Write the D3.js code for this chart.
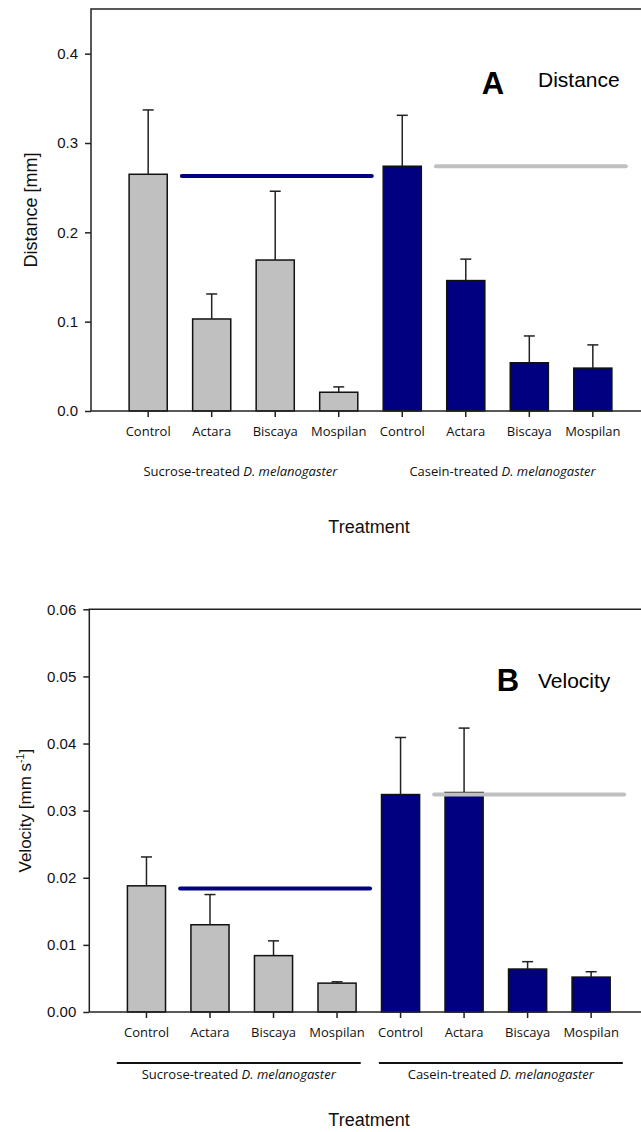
<!DOCTYPE html>
<html>
<head>
<meta charset="utf-8">
<script src="https://cdn.jsdelivr.net/npm/d3@7"></script>
<style>
  body { margin: 0; background: #fff; }
  svg { display: block; }
</style>
</head>
<body>
<div id="viz-container"></div>
<script>
// treatments, repeated per diet group
let treatments = ['Control', 'Actara', 'Biscaya', 'Mospilan'];
let groups = ['Sucrose-treated', 'Casein-treated'];

// panel A - distance (mm), mean and SE
let distMean = [0.265, 0.103, 0.169, 0.021, 0.274, 0.146, 0.054, 0.048];
let distErr  = [0.072, 0.028, 0.077, 0.006, 0.057, 0.024, 0.030, 0.026];
let distRef  = [0.263, 0.274];   // navy line over sucrose, grey line over casein
let distTicks = [0, 0.1, 0.2, 0.3, 0.4];

// panel B - velocity (mm/s), mean and SE
let velMean = [0.0188, 0.0130, 0.0084, 0.0043, 0.0324, 0.0327, 0.0064, 0.0052];
let velErr  = [0.0043, 0.0045, 0.0022, 0.0002, 0.0085, 0.0096, 0.0011, 0.0008];
let velRef  = [0.0184, 0.0324];
let velTicks = [0, 0.01, 0.02, 0.03, 0.04, 0.05, 0.06];

//group color
let gc = { 'Sucrose-treated': '#c0c0c0', 'Casein-treated': '#000080' };
let refColor = ['#000080', '#c0c0c0'];

let fontAxis = '"Liberation Sans", Arial, sans-serif';
let fontCat = '"Open Sans", sans-serif';

let svg = d3.select('#viz-container')
  .append('svg')
    .attr('width', 641)
    .attr('height', 1132);

function panel(opt){
  let bars = [];
  groups.forEach(function(g, gi){
    treatments.forEach(function(t, ti){
      let i = gi*4 + ti;
      bars.push({i: i, group: g, name: t, mean: opt.mean[i], err: opt.err[i]});
    });
  });

  let x = d3.scaleBand()
    .domain(d3.range(bars.length))
    .range([opt.left, opt.left + 559])
    .paddingInner(0.4)
    .paddingOuter(0.6);

  let y = d3.scaleLinear()
    .domain([0, opt.yMax])
    .range([opt.bottom, opt.top]);

  let g = svg.append('g');

  // frame (top + left), goes off the right edge like the original
  g.append('path')
    .attr('d', 'M' + (opt.left + 600) + ',' + opt.top + 'H' + opt.left + 'V' + opt.bottom)
    .attr('fill', 'none')
    .attr('stroke', '#222')
    .attr('stroke-width', 1.5);

  // y axis
  let ya = g.append('g')
    .attr('transform', 'translate(' + opt.left + ',0)')
    .call(d3.axisLeft(y).tickValues(opt.ticks).tickFormat(d3.format(opt.fmt)).tickSize(6).tickPadding(7));
  ya.select('.domain').remove();
  ya.selectAll('line').attr('stroke', '#222').attr('stroke-width', 1.5);
  ya.selectAll('text').attr('font-family', fontAxis).attr('font-size', 15).attr('fill', '#111');

  // bars
  g.selectAll('.bar').data(bars).enter()
    .append('rect')
      .attr('x', function(d){ return x(d.i); })
      .attr('y', function(d){ return y(d.mean); })
      .attr('width', x.bandwidth())
      .attr('height', function(d){ return y(0) - y(d.mean); })
      .attr('fill', function(d){ return gc[d.group]; })
      .attr('stroke', '#111')
      .attr('stroke-width', 1.5);

  // error bars (upper only)
  let cx = function(d){ return x(d.i) + x.bandwidth()/2; };
  g.selectAll('.errv').data(bars).enter()
    .append('line')
      .attr('x1', cx).attr('x2', cx)
      .attr('y1', function(d){ return y(d.mean); })
      .attr('y2', function(d){ return y(d.mean + d.err); })
      .attr('stroke', '#222').attr('stroke-width', 1.5);
  g.selectAll('.errc').data(bars).enter()
    .append('line')
      .attr('x1', function(d){ return cx(d) - 5.5; })
      .attr('x2', function(d){ return cx(d) + 5.5; })
      .attr('y1', function(d){ return y(d.mean + d.err); })
      .attr('y2', function(d){ return y(d.mean + d.err); })
      .attr('stroke', '#222').attr('stroke-width', 1.5);

  // reference lines over Actara..Mospilan of each group
  opt.ref.forEach(function(v, gi){
    let a = x(gi*4 + 1) + x.bandwidth()/2 - 0.47*x.step();
    let b = x(gi*4 + 3) + x.bandwidth()/2 + 0.52*x.step();
    g.append('line')
      .attr('x1', a).attr('x2', b)
      .attr('y1', y(v)).attr('y2', y(v))
      .attr('stroke', refColor[gi])
      .attr('stroke-width', 4)
      .attr('stroke-linecap', 'round');
  });

  // x axis
  let xa = g.append('g')
    .attr('transform', 'translate(0,' + opt.bottom + ')')
    .call(d3.axisBottom(x).tickSize(6).tickPadding(8).tickFormat(function(i){ return bars[i].name; }));
  xa.select('.domain')
    .attr('d', 'M' + opt.left + ',0H' + (opt.left + 600))
    .attr('stroke', '#222').attr('stroke-width', 1.5);
  xa.selectAll('line').attr('stroke', '#222').attr('stroke-width', 1.5);
  xa.selectAll('text')
    .attr('font-family', fontCat).attr('font-size', 13).attr('fill', '#111')
    .attr('dy', null).attr('y', opt.catY - opt.bottom);

  // group labels
  groups.forEach(function(name, gi){
    let c = (x(gi*4) + x(gi*4 + 3) + x.bandwidth())/2 + (gi === 0 ? -3 : 5);
    if(opt.groupLine){
      g.append('line')
        .attr('x1', c - 1.92*x.step()).attr('x2', c + 1.92*x.step())
        .attr('y1', opt.groupLine).attr('y2', opt.groupLine)
        .attr('stroke', '#111').attr('stroke-width', 2);
    }
    let t = g.append('text')
      .attr('x', c).attr('y', opt.groupY)
      .attr('text-anchor', 'middle')
      .attr('font-family', fontCat).attr('font-size', 13).attr('fill', '#111');
    t.append('tspan').text(name + ' ');
    t.append('tspan').attr('font-style', 'italic').text('D. melanogaster');
  });

  // x title
  g.append('text')
    .attr('x', 369).attr('y', opt.titleY)
    .attr('text-anchor', 'middle')
    .attr('font-family', fontAxis).attr('font-size', 18).attr('fill', '#111')
    .text('Treatment');

  // y title
  let yt = g.append('text')
    .attr('transform', 'translate(' + opt.yTitleX + ',' + ((opt.top + opt.bottom)/2) + ') rotate(-90)')
    .attr('text-anchor', 'middle')
    .attr('font-family', fontAxis).attr('font-size', opt.yTitleSize).attr('fill', '#111');
  yt.append('tspan').text(opt.yTitle[0]);
  if(opt.yTitle.length > 1){
    yt.append('tspan').attr('font-size', opt.yTitleSize*0.62).attr('dy', -7).text(opt.yTitle[1]);
    yt.append('tspan').attr('dy', 7).text(opt.yTitle[2]);
  }

  // panel letter + name
  g.append('text')
    .attr('x', opt.letterX).attr('y', opt.letterY)
    .attr('text-anchor', 'middle')
    .attr('font-family', fontAxis).attr('font-weight', 'bold').attr('font-size', 31).attr('fill', '#000')
    .text(opt.letter);
  g.append('text')
    .attr('x', 538).attr('y', opt.nameY)
    .attr('font-family', fontAxis).attr('font-size', 21).attr('fill', '#000')
    .text(opt.name);
}

panel({
  left: 91, top: 9, bottom: 411, yMax: 0.45,
  mean: distMean, err: distErr, ref: distRef, ticks: distTicks, fmt: '.1f',
  catY: 436, groupY: 476, groupLine: null, titleY: 533,
  yTitle: ['Distance [mm]'], yTitleX: 37, yTitleSize: 18,
  letter: 'A', letterX: 493, letterY: 94, name: 'Distance', nameY: 87
});

panel({
  left: 89.3, top: 609.3, bottom: 1012, yMax: 0.06,
  mean: velMean, err: velErr, ref: velRef, ticks: velTicks, fmt: '.2f',
  catY: 1037, groupY: 1079, groupLine: 1063, titleY: 1126,
  yTitle: ['Velocity [mm s', '-1', ']'], yTitleX: 31, yTitleSize: 17,
  letter: 'B', letterX: 508, letterY: 691, name: 'Velocity', nameY: 688
});
</script>
</body>
</html>
